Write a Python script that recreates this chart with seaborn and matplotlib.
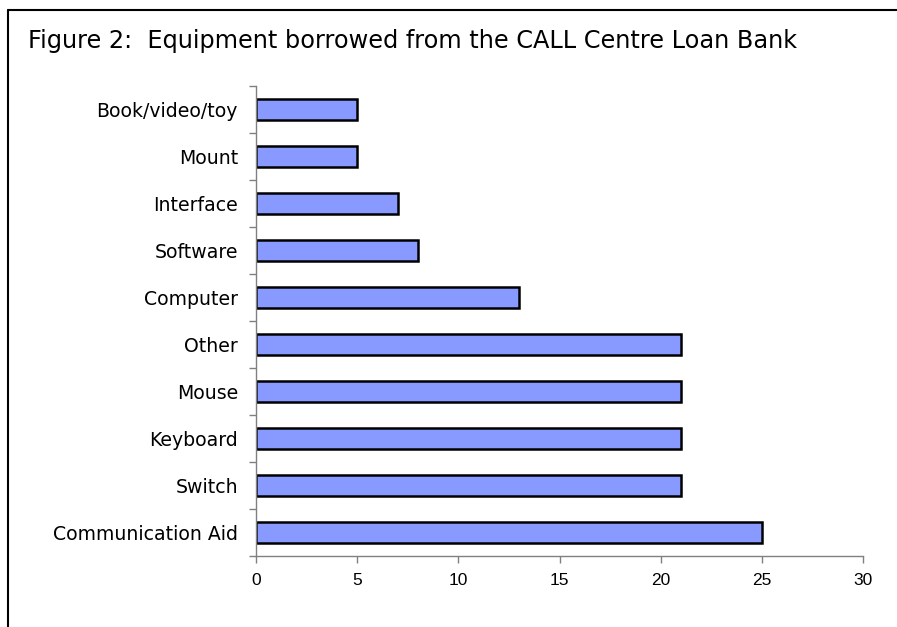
import matplotlib
matplotlib.use("Agg")
import matplotlib.pyplot as plt
import seaborn as sns
import pandas as pd
from matplotlib.lines import Line2D
from matplotlib.ticker import FixedLocator

categories = ["Book/video/toy", "Mount", "Interface", "Software", "Computer",
              "Other", "Mouse", "Keyboard", "Switch", "Communication Aid"]
values = [5, 5, 7, 8, 13, 21, 21, 21, 21, 25]
x_ticks = [0, 5, 10, 15, 20, 25, 30]
title = "Figure 2:  Equipment borrowed from the CALL Centre Loan Bank"

sns.set_theme(style="white")
plt.rcParams['font.family'] = ['DejaVu Sans']

W, H = 897, 627
fig = plt.figure(figsize=(W / 100, H / 100), dpi=100)
ax = fig.add_axes([256 / W, 1 - 556 / H, (863 - 256) / W, (556 - 86) / H])

df = pd.DataFrame({"cat": categories, "val": values})
sns.barplot(data=df, y="cat", x="val", orient="h", color="#8899FF",
            saturation=1, edgecolor="black", linewidth=1.8, width=0.43, ax=ax)

ax.set_xlim(0, 30)
ax.set_ylim(len(categories) - 0.5, -0.5)
ax.set_xticks(x_ticks)
ax.set_xticklabels([str(t) for t in x_ticks])
for lab in ax.get_xticklabels():
    lab.set_color("black")
    lab.set_fontfamily(["Liberation Sans", "DejaVu Sans"])
    lab.set_fontsize(12.5)
for lab in ax.get_yticklabels():
    lab.set_color("black")
    lab.set_fontsize(13.6)
ax.yaxis.set_minor_locator(FixedLocator([i - 0.5 for i in range(len(categories) + 1)]))
ax.tick_params(axis="y", which="major", length=0, pad=13)
ax.tick_params(axis="y", which="minor", length=5, width=1, color="#808080", left=True)
ax.tick_params(axis="x", which="major", length=5, width=1, color="#808080", bottom=True, pad=7)
ax.set_xlabel("")
ax.set_ylabel("")
for s in ["top", "right"]:
    ax.spines[s].set_visible(False)
for s in ["left", "bottom"]:
    ax.spines[s].set_color("#808080")
    ax.spines[s].set_linewidth(1)
ax.grid(False)

# figure border (top and left)
fig.add_artist(Line2D([8 / W, 8 / W], [0, 1 - 10 / H], color="black", lw=1.5, transform=fig.transFigure))
fig.add_artist(Line2D([8 / W, 1], [1 - 10 / H, 1 - 10 / H], color="black", lw=1.5, transform=fig.transFigure))

fig.text(28 / W, 1 - 41 / H, title, fontsize=17.3, va="center", ha="left", color="black")

fig.savefig("out.png", dpi=100)
